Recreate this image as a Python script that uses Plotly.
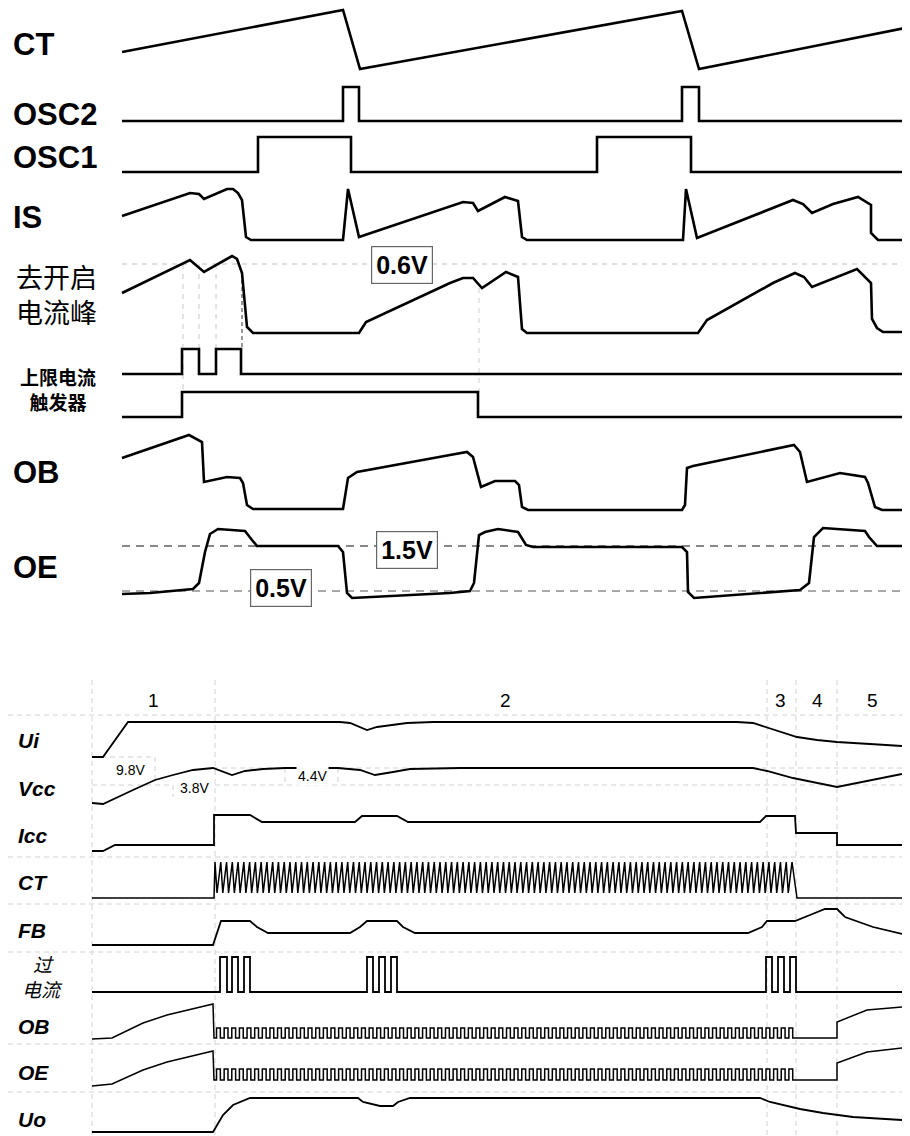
import plotly.graph_objects as go

# ================= DATA =================
# Top diagram: each signal = time points + amplitude above its row baseline
ct_t = [122, 343, 360, 682, 699, 910]
ct_v = [17, 59, 0, 58, 0, 42]

osc2_t = [122, 343, 343, 359, 359, 682, 682, 699, 699, 910]
osc2_v = [0, 0, 34, 34, 0, 0, 34, 34, 0, 0]

osc1_t = [122, 258, 258, 351, 351, 597, 597, 691, 691, 910]
osc1_v = [0, 0, 35, 35, 0, 0, 35, 35, 0, 0]

is_t = [122, 190, 199, 204, 227, 233, 238, 242, 246, 251, 343, 348, 359, 450, 463, 473, 478,
        505, 512, 518, 522, 527, 683, 686, 697, 793, 803, 812, 833, 858, 871, 871, 878, 910]
is_v = [24, 47, 46, 41, 51, 51, 47, 40, 3, 0, 0, 51, 3, 33, 38, 37, 29,
        43, 41, 39, 3, 0, 0, 51, 2, 40, 36, 27, 36, 43, 35, 7, 0, 0]

pk_t = [122, 190, 204, 232, 237, 242, 247, 253, 359, 366, 450, 463, 473, 482, 506, 518, 522, 527,
        698, 707, 773, 795, 804, 812, 857, 871, 872, 877, 883, 910]
pk_v = [40, 73, 61, 77, 74, 60, 6, 0, 0, 11, 50, 55, 55, 45, 61, 56, 4, 0,
        0, 13, 50, 60, 56, 46, 64, 50, 14, 5, 1, 1]

lim_t = [122, 182, 182, 199, 199, 216, 216, 241, 241, 910]
lim_v = [0, 0, 25, 25, 0, 0, 25, 25, 0, 0]

trg_t = [122, 182, 182, 478, 478, 910]
trg_v = [0, 0, 25, 25, 0, 0]

ob_t = [122, 189, 202, 204, 227, 240, 243, 247, 253, 343, 348, 357, 450, 467, 473, 481, 495, 515,
        519, 522, 528, 682, 685, 687, 693, 794, 800, 807, 840, 865, 868, 875, 882, 910]
ob_v = [52, 75, 68, 28, 33, 32, 27, 5, 1, 1, 32, 38, 55, 58, 53, 23, 29, 29,
        25, 3, 0, 0, 5, 42, 44, 65, 58, 28, 37, 33, 27, 3, 0, 0]

oe_t = [122, 150, 193, 199, 205, 210, 218, 245, 252, 257, 338, 343, 347, 352, 450, 470, 474, 479,
        485, 498, 518, 522, 526, 533, 682, 687, 688, 694, 800, 809, 814, 823, 865, 869, 877, 910]
oe_v = [4, 5, 9, 15, 46, 64, 69, 67, 58, 52, 52, 46, 5, 0, 5, 7, 15, 63,
        66, 69, 66, 60, 53, 51, 51, 46, 6, 0, 8, 15, 61, 70, 67, 61, 52, 52]

top_labels = ["CT", "OSC2", "OSC1", "IS", "OB", "OE"]
ref_texts_top = ["0.6V", "1.5V", "0.5V"]

# Bottom diagram
ui_t = [92, 103, 128, 340, 350, 367, 377, 407, 433, 737, 753, 797, 817, 837, 870, 902]
ui_v = [0, 0, 35, 35, 34, 27, 30, 34, 35, 35, 34, 20, 17, 15, 13, 11]

vcc_t = [92, 103, 133, 155, 173, 193, 213, 232, 245, 263, 285, 338, 360, 375, 393, 410, 460,
         753, 767, 793, 837, 902]
vcc_v = [1, 0, 14, 24, 29, 34, 36, 29, 33, 35, 36, 36, 34, 29, 32, 35, 36,
         36, 33, 26, 17, 30]

icc_t = [92, 103, 115, 214, 214, 250, 262, 355, 362, 397, 408, 760, 766, 795, 796, 837, 837, 902]
icc_v = [0, 0, 6, 6, 36, 36, 29, 29, 35, 35, 29, 29, 35, 35, 18, 18, 6, 6]

ct2_pre_t = [92, 214]
ct2_pre_v = [0, 0]
ct2_teeth = 100
ct2_span = [215, 792]
ct2_levels = [5, 36]
ct2_post_t = [797, 902]
ct2_post_v = [0, 0]

fb_t = [92, 213, 221, 250, 257, 268, 350, 360, 367, 397, 403, 415, 748, 762, 767, 795, 810,
        825, 837, 845, 873, 902]
fb_v = [0, 0, 24, 24, 18, 12, 12, 18, 24, 24, 18, 12, 12, 18, 24, 24, 30,
        36, 36, 28, 18, 11]

oc_t = [92, 220, 220, 227, 227, 232, 232, 238, 238, 244, 244, 250, 250,
        367, 367, 373, 373, 379, 379, 385, 385, 391, 391, 397, 397,
        766, 766, 772, 772, 778, 778, 784, 784, 790, 790, 796, 796, 902]
oc_v = [0, 0, 35, 35, 0, 0, 35, 35, 0, 0, 35, 35, 0,
        0, 35, 35, 0, 0, 35, 35, 0, 0, 35, 35, 0,
        0, 35, 35, 0, 0, 35, 35, 0, 0, 35, 35, 0, 0]

ob2_pre_t = [92, 112, 143, 167, 213, 214]
ob2_pre_v = [0, 1, 16, 24, 35, 1]
ob2_pulses = 76
ob2_span = [215, 795]
ob2_levels = [1, 11]
ob2_post_t = [837, 837, 867, 902]
ob2_post_v = [1, 17, 29, 32]

oe2_pre_t = [92, 112, 143, 167, 213, 214]
oe2_pre_v = [0, 2, 16, 24, 35, 6]
oe2_pulses = 76
oe2_span = [215, 795]
oe2_levels = [6, 17]
oe2_post_t = [837, 837, 867, 902]
oe2_post_v = [6, 23, 34, 38]

uo_t = [92, 213, 223, 233, 250, 358, 363, 380, 393, 398, 410, 760, 770, 800, 823, 853, 902]
uo_v = [0, 0, 17, 27, 34, 34, 30, 26, 26, 30, 34, 34, 30, 23, 19, 15, 12]

phase_labels = ["1", "2", "3", "4", "5"]
vcc_marks = ["9.8V", "3.8V", "4.4V"]

# ================= LAYOUT / STYLE =================
W, H = 910, 1136
PAGE_OFF = 8  # browser body margin
BLACK = "#000000"
FONT_LAT = "Liberation Sans, Arial, sans-serif"
FONT_CJK = "Noto Sans CJK SC, sans-serif"

base = {
    "ct": 69, "osc2": 121, "osc1": 172, "is": 240, "pk": 333, "lim": 374, "trg": 417,
    "ob": 510, "oe": 598,
    "ui": 757, "vcc": 804, "icc": 851, "ct2": 898, "fb": 945, "oc": 992,
    "ob2": 1039, "oe2": 1086, "uo": 1132,
}


def sawtooth(span, n, levels):
    lo, hi = levels
    t, v = [span[0]], [hi]
    p = (span[1] - span[0]) / n
    for i in range(n):
        a = span[0] + i * p
        t += [a + 0.35 * p, a + p]
        v += [lo, hi]
    return t, v


def pulses(span, n, levels):
    lo, hi = levels
    t, v = [span[0]], [lo]
    p = (span[1] - span[0]) / n
    for i in range(n):
        a = span[0] + i * p
        t += [a + 0.2 * p, a + 0.2 * p, a + 0.7 * p, a + 0.7 * p]
        v += [lo, hi, hi, lo]
    t.append(span[1])
    v.append(lo)
    return t, v


fig = go.Figure()


def add(tt, vv, key, width):
    fig.add_trace(go.Scatter(
        x=tt, y=[base[key] - val for val in vv], mode="lines",
        line=dict(color=BLACK, width=width, shape="linear"),
        hoverinfo="skip", showlegend=False))


shapes = []


def dline(x0, y0, x1, y1, color, dash="dash", width=1):
    shapes.append(dict(type="line", x0=x0, y0=y0, x1=x1, y1=y1, layer="below",
                       line=dict(color=color, width=width, dash=dash)))


# ---- top diagram reference lines ----
dline(122, 264, 910, 264, "#bdbdbd", "5px,5px", 1)
dline(183, 264, 183, 392, "#c8c8c8", "5px,5px", 1)
dline(199, 264, 199, 374, "#c8c8c8", "5px,5px", 1)
dline(216, 264, 216, 349, "#c8c8c8", "5px,5px", 1)
dline(242, 273, 242, 349, "#333333", "4px,3px", 1)
dline(479, 288, 479, 392, "#d0d0d0", "5px,5px", 1)
dline(122, 546, 910, 546, "#111111", "8px,6px", 1.2)
dline(122, 591, 910, 591, "#555555", "8px,6px", 1.2)

# ---- bottom grid ----
GRID = "#d2d2d2"
for yy in [715, 857, 904, 952, 1044, 1092]:
    dline(8, yy, 910, yy, GRID, "5px,4px", 1)
for xx in [92, 215, 767, 796, 837]:
    dline(xx, 680, xx, 1136, GRID, "5px,4px", 1)
# Vcc reference marks
dline(92, 757, 155, 757, GRID, "5px,4px", 1)
dline(155, 757, 155, 780, GRID, "5px,4px", 1)
dline(213, 768, 910, 768, GRID, "5px,4px", 1)
dline(92, 785, 173, 785, GRID, "5px,4px", 1)
dline(173, 785, 173, 797, GRID, "5px,4px", 1)
dline(215, 785, 910, 785, GRID, "5px,4px", 1)
dline(285, 768, 285, 785, GRID, "5px,4px", 1)
dline(338, 768, 338, 785, GRID, "5px,4px", 1)

# ---- top traces ----
LW = 2.6
add(ct_t, ct_v, "ct", LW)
add(osc2_t, osc2_v, "osc2", LW)
add(osc1_t, osc1_v, "osc1", LW)
add(is_t, is_v, "is", LW)
add(pk_t, pk_v, "pk", LW)
add(lim_t, lim_v, "lim", LW)
add(trg_t, trg_v, "trg", LW)
add(ob_t, ob_v, "ob", LW)
add(oe_t, oe_v, "oe", LW)

# ---- bottom traces ----
LB = 1.8
add(ui_t, ui_v, "ui", LB)
add(vcc_t, vcc_v, "vcc", LB)
add(icc_t, icc_v, "icc", LB)
st_t, st_v = sawtooth(ct2_span, ct2_teeth, ct2_levels)
add(ct2_pre_t + st_t + ct2_post_t, ct2_pre_v + st_v + ct2_post_v, "ct2", 1.5)
add(fb_t, fb_v, "fb", LB)
add(oc_t, oc_v, "oc", LB)
p_t, p_v = pulses(ob2_span, ob2_pulses, ob2_levels)
add(ob2_pre_t + p_t + ob2_post_t, ob2_pre_v + p_v + ob2_post_v, "ob2", 1.5)
p_t, p_v = pulses(oe2_span, oe2_pulses, oe2_levels)
add(oe2_pre_t + p_t + oe2_post_t, oe2_pre_v + p_v + oe2_post_v, "oe2", 1.5)
add(uo_t, uo_v, "uo", LB)

ann = []


def text(x, y, s, size, family=FONT_LAT, weight="normal", style="normal", xanchor="left",
         box=False, bg=None, align="left"):
    a = dict(x=x, y=y, xref="x", yref="y", text=s, showarrow=False, xanchor=xanchor,
             yanchor="middle", align=align,
             font=dict(family=family, size=size, color=BLACK, weight=weight, style=style))
    if box:
        a.update(bordercolor="#666666", borderwidth=1.2, bgcolor="white", borderpad=4)
    elif bg:
        a.update(bgcolor=bg, borderpad=1)
    ann.append(a)


# top labels
top_label_y = [44, 114, 157, 217, 472, 567]
for s, yy in zip(top_labels, top_label_y):
    text(11, yy, s, 31, weight="bold")
text(14, 294, "去开启<br>电流峰", 27, family=FONT_CJK)
text(58, 389, "上限电流<br>触发器", 19, family=FONT_CJK, weight="bold",
     xanchor="center", align="center")

text(402, 265, ref_texts_top[0], 25, weight="bold", xanchor="center", box=True)
text(407, 550, ref_texts_top[1], 25, weight="bold", xanchor="center", box=True)
text(281, 588, ref_texts_top[2], 25, weight="bold", xanchor="center", box=True)

# bottom labels
bot_labels = ["Ui", "Vcc", "Icc", "CT", "FB", "OB", "OE", "Uo"]
bot_y = [740, 788, 835, 882, 930, 1026, 1072, 1119]
for s, yy in zip(bot_labels, bot_y):
    text(16, yy, s, 21, weight="bold", style="italic")
text(43, 963, "过", 19, family=FONT_CJK, style="italic", xanchor="center")
text(42, 988, "电流", 19, family=FONT_CJK, style="italic", xanchor="center")

phase_x = [153, 505, 780, 817, 872]
for s, xx in zip(phase_labels, phase_x):
    text(xx, 700, s, 19, xanchor="center")

text(130, 770, vcc_marks[0], 14, xanchor="center", bg="white")
text(194, 788, vcc_marks[1], 14, xanchor="center", bg="white")
text(312, 776, vcc_marks[2], 14, xanchor="center", bg="white")

# The page places the figure PAGE_OFF px from the top-left corner; size and
# ranges are chosen so that diagram units match the final screen pixels.
fig.update_layout(
    width=W - PAGE_OFF, height=H - PAGE_OFF, margin=dict(l=0, r=0, t=0, b=0),
    paper_bgcolor="white", plot_bgcolor="white",
    xaxis=dict(range=[PAGE_OFF, W], visible=False, fixedrange=True),
    yaxis=dict(range=[H, PAGE_OFF], visible=False, fixedrange=True),
    shapes=shapes, annotations=ann, showlegend=False,
)

fig.write_html("out.html")
